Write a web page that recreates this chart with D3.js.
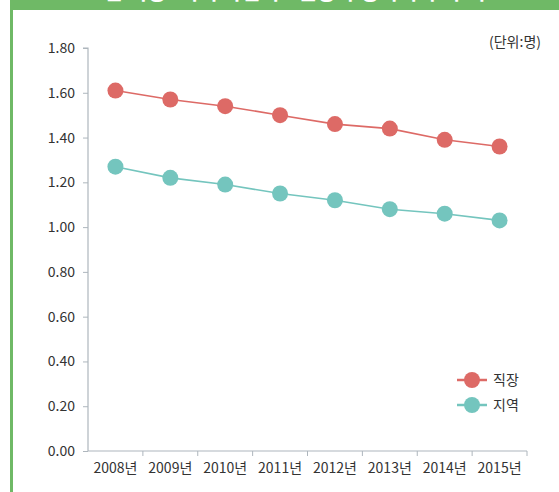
<!DOCTYPE html>
<html>
<head>
<meta charset="utf-8">
<script src="https://cdn.jsdelivr.net/npm/d3@7"></script>
<style>
  body { margin: 0; background: #fff; }
  svg { display: block; font-family: "Noto Sans CJK KR", "Noto Sans", sans-serif; }
</style>
</head>
<body>
<svg id="chart" width="559" height="492"></svg>
<script>
// data
const years = ["2008년", "2009년", "2010년", "2011년", "2012년", "2013년", "2014년", "2015년"];
const jikjang = [1.61, 1.57, 1.54, 1.50, 1.46, 1.44, 1.39, 1.36];
const jiyeok = [1.27, 1.22, 1.19, 1.15, 1.12, 1.08, 1.06, 1.03];
const seriesNames = ["직장", "지역"];
const yTicks = [0, 0.2, 0.4, 0.6, 0.8, 1.0, 1.2, 1.4, 1.6, 1.8];

const colors = ["#dd6a66", "#74c5be"];
const axisColor = "#aeb6bd";

const svg = d3.select("#chart");
const width = 559, height = 492;
const margin = {top: 48, right: 32, bottom: 41, left: 88};

// green frame: top band and left rule
svg.append("rect").attr("x", 10).attr("y", 0).attr("width", width - 10).attr("height", 10).attr("fill", "#6fb966");
svg.append("rect").attr("x", 10).attr("y", 0).attr("width", 3).attr("height", height).attr("fill", "#6fb966");

// title cut off by the top edge, only its feet show
svg.append("text")
  .attr("x", 285).attr("y", -1.5)
  .attr("text-anchor", "middle")
  .attr("fill", "#fff")
  .style("font-size", "21px")
  .style("font-weight", "bold")
  .text("그림 직장·지역 가입자 1인당 부양가족 수 추이");

const x = d3.scaleBand()
  .domain(years)
  .range([margin.left, width - margin.right]);

const y = d3.scaleLinear()
  .domain([0, 1.8])
  .range([height - margin.bottom, margin.top]);

// y axis
const yAxis = svg.append("g")
  .attr("transform", `translate(${margin.left},0)`)
  .call(d3.axisLeft(y).tickValues(yTicks).tickFormat(d3.format(".2f")).tickSize(5).tickPadding(8));

// x axis
const xAxis = svg.append("g")
  .attr("transform", `translate(0,${height - margin.bottom})`)
  .call(d3.axisBottom(x).tickSize(0).tickPadding(12));

// tick marks on band edges
xAxis.selectAll(".edge")
  .data(years.map((d, i) => x.range()[0] + i * x.step()).slice(1).concat([x.range()[1]]))
  .enter().append("line")
  .attr("class", "edge")
  .attr("x1", d => d).attr("x2", d => d)
  .attr("y1", 0).attr("y2", 5)
  .attr("stroke", axisColor);

[yAxis, xAxis].forEach(g => {
  g.selectAll(".domain").attr("stroke", axisColor).attr("stroke-width", 1.2);
  g.selectAll(".tick line").attr("stroke", axisColor);
  g.selectAll("text").attr("fill", "#333").style("font-size", "14px")
    .style("font-family", '"Noto Sans CJK KR", sans-serif');
});
yAxis.select(".domain").attr("d", `M-5,${y(1.8)}H0V${y(0)}`);
xAxis.select(".domain").attr("d", `M${x.range()[0]},0H${x.range()[1]}`);

// unit label
svg.append("text")
  .attr("x", 541).attr("y", 47)
  .attr("text-anchor", "end")
  .attr("fill", "#333")
  .style("font-size", "14px")
  .text("(단위:명)");

// series
const series = [jikjang, jiyeok];
const line = d3.line()
  .x((d, i) => x(years[i]) + x.bandwidth() / 2)
  .y(d => y(d));

series.forEach((vals, s) => {
  svg.append("path")
    .attr("d", line(vals))
    .attr("fill", "none")
    .attr("stroke", colors[s])
    .attr("stroke-width", 1.6);

  svg.selectAll(".pt" + s)
    .data(vals)
    .enter().append("circle")
    .attr("class", "pt" + s)
    .attr("cx", (d, i) => x(years[i]) + x.bandwidth() / 2)
    .attr("cy", d => y(d))
    .attr("r", 8)
    .attr("fill", colors[s]);
});

// legend
const legend = svg.append("g").attr("transform", "translate(457,380)");
seriesNames.forEach((name, i) => {
  const g = legend.append("g").attr("transform", `translate(0,${i * 25})`);
  g.append("line").attr("x1", 0).attr("x2", 30).attr("y1", 0).attr("y2", 0)
    .attr("stroke", colors[i]).attr("stroke-width", 2.5);
  g.append("circle").attr("cx", 15).attr("cy", 0).attr("r", 8).attr("fill", colors[i]);
  g.append("text").attr("x", 36).attr("y", 5)
    .attr("fill", "#333").style("font-size", "14px").text(name);
});
</script>
</body>
</html>
